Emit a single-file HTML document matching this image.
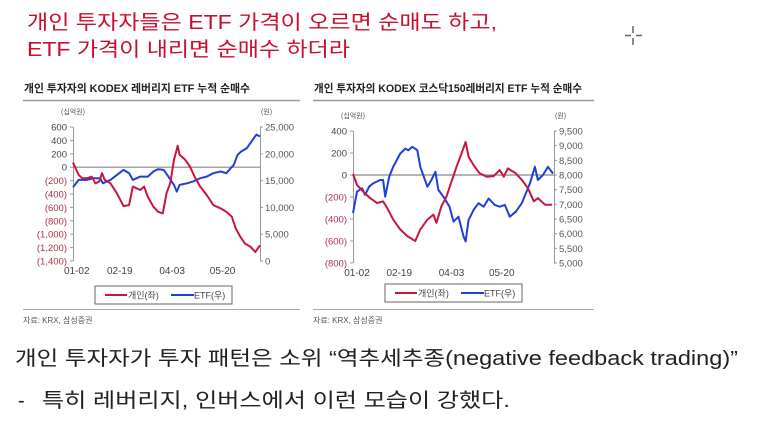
<!DOCTYPE html>
<html><head><meta charset="utf-8">
<style>
html,body{margin:0;padding:0;background:#fff;}
body{width:762px;height:422px;overflow:hidden;font-family:"Liberation Sans","Noto Sans CJK KR",sans-serif;}
svg text{font-family:"Liberation Sans","Noto Sans CJK KR",sans-serif;}
</style></head>
<body>
<svg id="page" width="762" height="422" viewBox="0 0 762 422" xmlns="http://www.w3.org/2000/svg">
  <text x="27" y="29" font-size="20" fill="#c8102e" textLength="470" lengthAdjust="spacingAndGlyphs">개인 투자자들은 ETF 가격이 오르면 순매도 하고,</text>
  <text x="27" y="56" font-size="20" fill="#c8102e" textLength="323" lengthAdjust="spacingAndGlyphs">ETF 가격이 내리면 순매수 하더라</text>
  <g stroke="#666" stroke-width="1.5">
    <line x1="633" y1="26" x2="633" y2="33"/><line x1="633" y1="38" x2="633" y2="45"/>
    <line x1="625" y1="35.5" x2="631" y2="35.5"/><line x1="636" y1="35.5" x2="642" y2="35.5"/>
  </g>
  <g id="chart1"></g>
  <g id="chart2"></g>
  <text x="15" y="365" font-size="20" fill="#222" textLength="723" lengthAdjust="spacingAndGlyphs">개인 투자자가 투자 패턴은 소위 “역추세추종(negative feedback trading)”</text>
  <text x="18" y="407" font-size="20" fill="#222">-</text>
  <text x="42" y="407" font-size="20" fill="#222" textLength="468" lengthAdjust="spacingAndGlyphs">특히 레버리지, 인버스에서 이런 모습이 강했다.</text>
</svg>
<script>
// ---- Chart 1 data ----
const c1Idx = [0,3,5,7.5,10,12,14,15.5,17,20,23.5,27,30,32,34,36,38,40,43,45.5,48,50,52,54,56,57,60,62.5,65,68,71.5,75,79,82,85,87,89.5,92,95,97.5,100];
const c1Retail = [70,-115,-165,-165,-140,-240,-215,-90,-190,-240,-390,-580,-565,-290,-315,-340,-290,-440,-590,-665,-690,-390,-240,110,320,185,110,10,-140,-290,-415,-565,-615,-665,-740,-915,-1040,-1140,-1190,-1265,-1165];
const c1EtfIdx = [0,3,7.5,11,14.5,16,20,23.5,27,30,32,36,40,43,45.5,48.5,51,54,55.5,57,61,64,68,71.5,75,79,82,86,88,90,93,95.5,98,100];
const c1Etf = [13750,15125,15125,15440,15440,14500,15125,16060,17000,16375,15125,15750,15750,16690,17125,17000,15750,14190,12940,14190,14500,14810,15440,15750,16375,16690,16375,17940,19810,20440,21060,22310,23560,23250];
const c1LeftTicks = [600,400,200,0,-200,-400,-600,-800,-1000,-1200,-1400];
const c1RightTicks = [25000,20000,15000,10000,5000,0];
const c1XTicks = [2,25,53,80];
const c1XLabels = ["01-02","02-19","04-03","05-20"];

// ---- Chart 2 data ----
const c2Idx = [0,2,5,8.5,12,15,17,20,23.5,27,31,33.5,37,40,41.5,44,46.5,49,51.5,54,56,57.5,60,63,66.5,70,73,75,77,81,84,87,90,92,95.5,99];
const c2Retail = [10,-90,-150,-210,-255,-240,-300,-405,-495,-555,-600,-495,-405,-360,-435,-285,-195,-60,75,195,300,165,90,15,-15,-10,45,-15,60,15,-45,-120,-240,-210,-270,-270];
const c2EtfIdx = [0,2,4.5,6,8,10,13.5,15,16,18,20,23.5,26,27.5,29.5,32,33.5,37,39,41,42.5,45,48,50,52.5,55,56,57.5,60,62.5,65,67.5,70.5,73,75.5,78,81,84,88,90.5,92,94.5,97,99.5];
const c2Etf = [6700,7430,7545,7320,7600,7715,7830,7830,7260,7940,8280,8730,8900,8845,8960,8845,8280,7600,7830,8110,7490,7260,6920,6410,6580,5900,5735,6470,6810,7040,6920,7200,6980,6920,6980,6580,6750,7040,7715,8280,7830,8000,8280,8050];
const c2LeftTicks = [400,200,0,-200,-400,-600,-800];
const c2RightTicks = [9500,9000,8500,8000,7500,7000,6500,6000,5500,5000];
const c2XTicks = [2,23,49,74];
const c2XLabels = ["01-02","02-19","04-03","05-20"];

const NS = "http://www.w3.org/2000/svg";
function mk(parent, tag, attrs, text){
  const e = document.createElementNS(NS, tag);
  for (const k in attrs) e.setAttribute(k, attrs[k]);
  if (text !== undefined) e.textContent = text;
  parent.appendChild(e);
  return e;
}
function fmt(v){
  const s = Math.abs(v).toLocaleString('en-US');
  return v < 0 ? "(" + s + ")" : s;
}
function draw(g, cfg){
  const xs = i => cfg.x0 + (cfg.x1 - cfg.x0) * i / 100;
  const yl = v => cfg.yTop + (cfg.lMax - v) / (cfg.lMax - cfg.lMin) * (cfg.yBot - cfg.yTop);
  const yr = v => cfg.yTop + (cfg.rMax - v) / (cfg.rMax - cfg.rMin) * (cfg.yBot - cfg.yTop);

  const t = mk(g, 'text', {x: cfg.titleX, y: 92, 'font-size': 11, 'font-weight': 'bold', fill: '#222', textLength: cfg.titleW, lengthAdjust: 'spacingAndGlyphs'}, cfg.title);
  
  
  const ul = mk(g, 'line', {x1: cfg.lineX0, x2: cfg.lineX1, y1: 100.5, y2: 100.5, stroke: '#999', 'stroke-width': 1.5});
  
  
  const bl = mk(g, 'line', {x1: cfg.lineX0, x2: cfg.lineX1, y1: 309.5, y2: 309.5, stroke: '#aaa', 'stroke-width': 1});
  
  

  const lu = mk(g, 'text', {x: cfg.x0 - 12, y: cfg.yTop - 13, 'font-size': 7, fill: '#555'}, '(십억원)');
  
  
  const ru = mk(g, 'text', {x: cfg.x1 + 1, y: cfg.yTop - 13, 'font-size': 7, fill: '#555'}, '(원)');
  
  

  const la = mk(g, 'line', {x1: cfg.x0 + 0.5, x2: cfg.x0 + 0.5, y1: cfg.yTop, y2: cfg.yBot, stroke: '#999'});
  
  
  const ra = mk(g, 'line', {x1: cfg.x1 + 0.5, x2: cfg.x1 + 0.5, y1: cfg.yTop, y2: cfg.yBot, stroke: '#999'});
  
  

  cfg.lTicks.forEach(v => {
    const y = yl(v);
    mk(g, 'line', {x1: cfg.x0 - 3, x2: cfg.x0, y1: y, y2: y, stroke: '#999'});
    const tx = mk(g, 'text', {x: cfg.x0 - 6, y: y + 3.5, 'font-size': 9.5, 'text-anchor': 'end', fill: v < 0 ? '#b0304a' : '#444'}, fmt(v));
    
    
  });
  cfg.rTicks.forEach(v => {
    const y = yr(v);
    mk(g, 'line', {x1: cfg.x1, x2: cfg.x1 + 3, y1: y, y2: y, stroke: '#999'});
    const tx = mk(g, 'text', {x: cfg.x1 + 5, y: y + 3.5, 'font-size': 9.5, fill: '#555'}, v.toLocaleString('en-US'));
    
    
  });
  cfg.xTicks.forEach((v, k) => {
    const tx = mk(g, 'text', {x: xs(v), y: yl(cfg.lMin) + 13, 'font-size': 10, 'text-anchor': 'middle', fill: '#444'}, cfg.xLabels[k]);
    
    
  });
  const zl = mk(g, 'line', {x1: cfg.x0, x2: cfg.x1, y1: yl(0), y2: yl(0), stroke: '#888', 'stroke-width': 1.2});
  
  

  const bp = mk(g, 'polyline', {fill: 'none', stroke: '#1f3fd6', 'stroke-width': 2, 'stroke-linejoin': 'round',
    points: cfg.eIdx.map((i, k) => xs(i).toFixed(1) + ',' + yr(cfg.etf[k]).toFixed(1)).join(' ')});
  
  
  const rp = mk(g, 'polyline', {fill: 'none', stroke: '#c8163e', 'stroke-width': 2, 'stroke-linejoin': 'round',
    points: cfg.rIdx.map((i, k) => xs(i).toFixed(1) + ',' + yl(cfg.retail[k]).toFixed(1)).join(' ')});
  
  

  const lg = mk(g, 'g', {});
  
  
  mk(lg, 'rect', {x: cfg.legX, y: cfg.legY, width: 137, height: 18, fill: '#fff', stroke: '#666'});
  mk(lg, 'line', {x1: cfg.legX + 10, x2: cfg.legX + 32, y1: cfg.legY + 9, y2: cfg.legY + 9, stroke: '#c8163e', 'stroke-width': 2});
  const l1 = mk(lg, 'text', {x: cfg.legX + 33, y: cfg.legY + 12.5, 'font-size': 9, fill: '#444'}, '개인(좌)');
  
  
  mk(lg, 'line', {x1: cfg.legX + 76, x2: cfg.legX + 99, y1: cfg.legY + 9, y2: cfg.legY + 9, stroke: '#1f3fd6', 'stroke-width': 2});
  const l2 = mk(lg, 'text', {x: cfg.legX + 99, y: cfg.legY + 12.5, 'font-size': 9, fill: '#444'}, 'ETF(우)');
  
  

  const src = mk(g, 'text', {x: cfg.lineX0, y: 323, 'font-size': 8, fill: '#555'}, '자료: KRX, 삼성증권');
  
  
}
draw(document.getElementById('chart1'), {
  title: '개인 투자자의 KODEX 레버리지 ETF 누적 순매수', titleX: 24, titleW: 226, lineX0: 23, lineX1: 300,
  x0: 73, x1: 260, yTop: 127, yBot: 261, lMax: 600, lMin: -1400, rMax: 25000, rMin: 0,
  lTicks: c1LeftTicks, rTicks: c1RightTicks, xTicks: c1XTicks, xLabels: c1XLabels,
  rIdx: c1Idx, retail: c1Retail, eIdx: c1EtfIdx, etf: c1Etf, legX: 95, legY: 286
});
draw(document.getElementById('chart2'), {
  title: '개인 투자자의 KODEX 코스닥150레버리지 ETF 누적 순매수', titleX: 314, titleW: 268, lineX0: 313, lineX1: 594,
  x0: 353, x1: 554, yTop: 131, yBot: 263, lMax: 400, lMin: -800, rMax: 9500, rMin: 5000,
  lTicks: c2LeftTicks, rTicks: c2RightTicks, xTicks: c2XTicks, xLabels: c2XLabels,
  rIdx: c2Idx, retail: c2Retail, eIdx: c2EtfIdx, etf: c2Etf, legX: 385, legY: 284
});
</script>
</body></html>
